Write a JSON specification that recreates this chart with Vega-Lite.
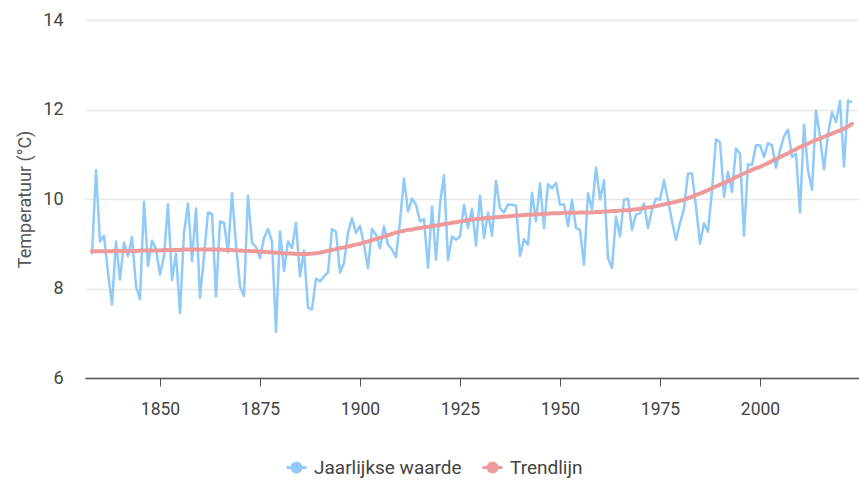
{
  "$schema": "https://vega.github.io/schema/vega-lite/v6.json",
  "width": 774,
  "height": 358,
  "autosize": {"type": "none"},
  "padding": {"left": 85, "top": 20, "right": 0, "bottom": 104},
  "background": "white",
  "config": {
    "font": "Roboto",
    "view": {"stroke": null},
    "axis": {"labelFont": "Roboto", "titleFont": "Roboto"},
    "legend": {"labelFont": "Roboto"}
  },
  "data": {"values": [
    {"year":1833,"jaarlijks":8.76,"trend":8.83},{"year":1834,"jaarlijks":10.64,"trend":8.83},{"year":1835,"jaarlijks":9.05,"trend":8.83},{"year":1836,"jaarlijks":9.18,"trend":8.83},{"year":1837,"jaarlijks":8.35,"trend":8.83},{"year":1838,"jaarlijks":7.64,"trend":8.83},{"year":1839,"jaarlijks":9.05,"trend":8.84},{"year":1840,"jaarlijks":8.2,"trend":8.84},{"year":1841,"jaarlijks":9.03,"trend":8.84},{"year":1842,"jaarlijks":8.72,"trend":8.84},{"year":1843,"jaarlijks":9.15,"trend":8.84},{"year":1844,"jaarlijks":8.05,"trend":8.84},{"year":1845,"jaarlijks":7.76,"trend":8.85},{"year":1846,"jaarlijks":9.94,"trend":8.85},{"year":1847,"jaarlijks":8.51,"trend":8.85},{"year":1848,"jaarlijks":9.07,"trend":8.85},{"year":1849,"jaarlijks":8.88,"trend":8.85},{"year":1850,"jaarlijks":8.31,"trend":8.85},
    {"year":1851,"jaarlijks":8.72,"trend":8.86},{"year":1852,"jaarlijks":9.88,"trend":8.86},{"year":1853,"jaarlijks":8.19,"trend":8.86},{"year":1854,"jaarlijks":8.78,"trend":8.86},{"year":1855,"jaarlijks":7.45,"trend":8.86},{"year":1856,"jaarlijks":9.24,"trend":8.87},{"year":1857,"jaarlijks":9.9,"trend":8.87},{"year":1858,"jaarlijks":8.61,"trend":8.87},{"year":1859,"jaarlijks":9.79,"trend":8.87},{"year":1860,"jaarlijks":7.79,"trend":8.87},{"year":1861,"jaarlijks":8.72,"trend":8.87},{"year":1862,"jaarlijks":9.7,"trend":8.87},{"year":1863,"jaarlijks":9.67,"trend":8.87},{"year":1864,"jaarlijks":7.82,"trend":8.87},{"year":1865,"jaarlijks":9.5,"trend":8.87},{"year":1866,"jaarlijks":9.47,"trend":8.86},{"year":1867,"jaarlijks":8.81,"trend":8.86},{"year":1868,"jaarlijks":10.13,"trend":8.86},{"year":1869,"jaarlijks":8.98,"trend":8.85},{"year":1870,"jaarlijks":8.05,"trend":8.85},
    {"year":1871,"jaarlijks":7.83,"trend":8.84},{"year":1872,"jaarlijks":10.07,"trend":8.84},{"year":1873,"jaarlijks":9.02,"trend":8.83},{"year":1874,"jaarlijks":8.93,"trend":8.83},{"year":1875,"jaarlijks":8.68,"trend":8.82},{"year":1876,"jaarlijks":9.13,"trend":8.82},{"year":1877,"jaarlijks":9.33,"trend":8.81},{"year":1878,"jaarlijks":9.05,"trend":8.81},{"year":1879,"jaarlijks":7.03,"trend":8.8},{"year":1880,"jaarlijks":9.28,"trend":8.8},{"year":1881,"jaarlijks":8.39,"trend":8.79},{"year":1882,"jaarlijks":9.05,"trend":8.78},{"year":1883,"jaarlijks":8.9,"trend":8.78},{"year":1884,"jaarlijks":9.47,"trend":8.77},{"year":1885,"jaarlijks":8.27,"trend":8.77},{"year":1886,"jaarlijks":8.85,"trend":8.77},{"year":1887,"jaarlijks":7.57,"trend":8.77},{"year":1888,"jaarlijks":7.53,"trend":8.78},{"year":1889,"jaarlijks":8.22,"trend":8.79},{"year":1890,"jaarlijks":8.16,"trend":8.8},
    {"year":1891,"jaarlijks":8.27,"trend":8.82},{"year":1892,"jaarlijks":8.36,"trend":8.84},{"year":1893,"jaarlijks":9.33,"trend":8.86},{"year":1894,"jaarlijks":9.27,"trend":8.88},{"year":1895,"jaarlijks":8.35,"trend":8.9},{"year":1896,"jaarlijks":8.57,"trend":8.92},{"year":1897,"jaarlijks":9.24,"trend":8.94},{"year":1898,"jaarlijks":9.57,"trend":8.96},{"year":1899,"jaarlijks":9.24,"trend":8.98},{"year":1900,"jaarlijks":9.4,"trend":9.0},{"year":1901,"jaarlijks":8.98,"trend":9.03},{"year":1902,"jaarlijks":8.46,"trend":9.05},{"year":1903,"jaarlijks":9.33,"trend":9.08},{"year":1904,"jaarlijks":9.2,"trend":9.11},{"year":1905,"jaarlijks":8.9,"trend":9.13},{"year":1906,"jaarlijks":9.39,"trend":9.16},{"year":1907,"jaarlijks":8.98,"trend":9.19},{"year":1908,"jaarlijks":8.87,"trend":9.22},{"year":1909,"jaarlijks":8.7,"trend":9.25},{"year":1910,"jaarlijks":9.5,"trend":9.27},
    {"year":1911,"jaarlijks":10.46,"trend":9.29},{"year":1912,"jaarlijks":9.72,"trend":9.31},{"year":1913,"jaarlijks":10.01,"trend":9.32},{"year":1914,"jaarlijks":9.87,"trend":9.34},{"year":1915,"jaarlijks":9.5,"trend":9.35},{"year":1916,"jaarlijks":9.55,"trend":9.37},{"year":1917,"jaarlijks":8.46,"trend":9.38},{"year":1918,"jaarlijks":9.83,"trend":9.39},{"year":1919,"jaarlijks":8.64,"trend":9.41},{"year":1920,"jaarlijks":9.9,"trend":9.42},{"year":1921,"jaarlijks":10.53,"trend":9.44},{"year":1922,"jaarlijks":8.63,"trend":9.45},{"year":1923,"jaarlijks":9.16,"trend":9.47},{"year":1924,"jaarlijks":9.09,"trend":9.48},{"year":1925,"jaarlijks":9.16,"trend":9.5},{"year":1926,"jaarlijks":9.87,"trend":9.51},{"year":1927,"jaarlijks":9.35,"trend":9.53},{"year":1928,"jaarlijks":9.78,"trend":9.54},{"year":1929,"jaarlijks":8.96,"trend":9.55},{"year":1930,"jaarlijks":10.07,"trend":9.56},
    {"year":1931,"jaarlijks":9.13,"trend":9.57},{"year":1932,"jaarlijks":9.7,"trend":9.58},{"year":1933,"jaarlijks":9.18,"trend":9.58},{"year":1934,"jaarlijks":10.4,"trend":9.59},{"year":1935,"jaarlijks":9.79,"trend":9.6},{"year":1936,"jaarlijks":9.7,"trend":9.61},{"year":1937,"jaarlijks":9.88,"trend":9.61},{"year":1938,"jaarlijks":9.87,"trend":9.62},{"year":1939,"jaarlijks":9.85,"trend":9.63},{"year":1940,"jaarlijks":8.73,"trend":9.63},{"year":1941,"jaarlijks":9.1,"trend":9.64},{"year":1942,"jaarlijks":8.98,"trend":9.65},{"year":1943,"jaarlijks":10.14,"trend":9.65},{"year":1944,"jaarlijks":9.5,"trend":9.66},{"year":1945,"jaarlijks":10.35,"trend":9.66},{"year":1946,"jaarlijks":9.35,"trend":9.67},{"year":1947,"jaarlijks":10.33,"trend":9.67},{"year":1948,"jaarlijks":10.24,"trend":9.68},{"year":1949,"jaarlijks":10.36,"trend":9.68},{"year":1950,"jaarlijks":9.87,"trend":9.68},
    {"year":1951,"jaarlijks":9.88,"trend":9.69},{"year":1952,"jaarlijks":9.39,"trend":9.69},{"year":1953,"jaarlijks":9.98,"trend":9.69},{"year":1954,"jaarlijks":9.35,"trend":9.69},{"year":1955,"jaarlijks":9.31,"trend":9.7},{"year":1956,"jaarlijks":8.53,"trend":9.7},{"year":1957,"jaarlijks":10.13,"trend":9.7},{"year":1958,"jaarlijks":9.77,"trend":9.7},{"year":1959,"jaarlijks":10.7,"trend":9.71},{"year":1960,"jaarlijks":9.99,"trend":9.71},{"year":1961,"jaarlijks":10.42,"trend":9.72},{"year":1962,"jaarlijks":8.68,"trend":9.72},{"year":1963,"jaarlijks":8.46,"trend":9.73},{"year":1964,"jaarlijks":9.61,"trend":9.73},{"year":1965,"jaarlijks":9.16,"trend":9.74},{"year":1966,"jaarlijks":9.98,"trend":9.75},{"year":1967,"jaarlijks":10.01,"trend":9.75},{"year":1968,"jaarlijks":9.31,"trend":9.76},{"year":1969,"jaarlijks":9.65,"trend":9.77},{"year":1970,"jaarlijks":9.68,"trend":9.78},
    {"year":1971,"jaarlijks":9.9,"trend":9.8},{"year":1972,"jaarlijks":9.35,"trend":9.81},{"year":1973,"jaarlijks":9.76,"trend":9.82},{"year":1974,"jaarlijks":10.01,"trend":9.84},{"year":1975,"jaarlijks":9.98,"trend":9.86},{"year":1976,"jaarlijks":10.42,"trend":9.88},{"year":1977,"jaarlijks":9.98,"trend":9.9},{"year":1978,"jaarlijks":9.5,"trend":9.92},{"year":1979,"jaarlijks":9.09,"trend":9.94},{"year":1980,"jaarlijks":9.46,"trend":9.96},{"year":1981,"jaarlijks":9.79,"trend":9.98},{"year":1982,"jaarlijks":10.57,"trend":10.02},{"year":1983,"jaarlijks":10.57,"trend":10.05},{"year":1984,"jaarlijks":9.83,"trend":10.09},{"year":1985,"jaarlijks":9.0,"trend":10.12},{"year":1986,"jaarlijks":9.46,"trend":10.16},{"year":1987,"jaarlijks":9.27,"trend":10.2},{"year":1988,"jaarlijks":10.2,"trend":10.24},{"year":1989,"jaarlijks":11.33,"trend":10.28},{"year":1990,"jaarlijks":11.27,"trend":10.32},
    {"year":1991,"jaarlijks":10.05,"trend":10.36},{"year":1992,"jaarlijks":10.61,"trend":10.4},{"year":1993,"jaarlijks":10.16,"trend":10.44},{"year":1994,"jaarlijks":11.13,"trend":10.49},{"year":1995,"jaarlijks":11.01,"trend":10.53},{"year":1996,"jaarlijks":9.18,"trend":10.57},{"year":1997,"jaarlijks":10.78,"trend":10.61},{"year":1998,"jaarlijks":10.76,"trend":10.65},{"year":1999,"jaarlijks":11.2,"trend":10.69},{"year":2000,"jaarlijks":11.2,"trend":10.72},{"year":2001,"jaarlijks":10.94,"trend":10.76},{"year":2002,"jaarlijks":11.25,"trend":10.8},{"year":2003,"jaarlijks":11.2,"trend":10.85},{"year":2004,"jaarlijks":10.7,"trend":10.89},{"year":2005,"jaarlijks":11.09,"trend":10.94},{"year":2006,"jaarlijks":11.4,"trend":10.98},{"year":2007,"jaarlijks":11.55,"trend":11.02},{"year":2008,"jaarlijks":10.94,"trend":11.07},{"year":2009,"jaarlijks":11.01,"trend":11.11},{"year":2010,"jaarlijks":9.7,"trend":11.16},
    {"year":2011,"jaarlijks":11.66,"trend":11.2},{"year":2012,"jaarlijks":10.64,"trend":11.24},{"year":2013,"jaarlijks":10.2,"trend":11.28},{"year":2014,"jaarlijks":11.98,"trend":11.32},{"year":2015,"jaarlijks":11.39,"trend":11.35},{"year":2016,"jaarlijks":10.66,"trend":11.39},{"year":2017,"jaarlijks":11.46,"trend":11.43},{"year":2018,"jaarlijks":11.94,"trend":11.46},{"year":2019,"jaarlijks":11.72,"trend":11.5},{"year":2020,"jaarlijks":12.19,"trend":11.53},{"year":2021,"jaarlijks":10.73,"trend":11.57},{"year":2022,"jaarlijks":12.2,"trend":11.62},{"year":2023,"jaarlijks":12.16,"trend":11.68}
  ]},
  "encoding": {
    "x": {
      "field": "year", "type": "quantitative",
      "scale": {"domain": [1831.25, 2024.75], "nice": false, "zero": false},
      "axis": {
        "title": null, "values": [1850, 1875, 1900, 1925, 1950, 1975, 2000],
        "format": "d", "grid": false, "domainColor": "#555555", "domainWidth": 1.5,
        "tickColor": "#555555", "tickSize": 8, "tickWidth": 1,
        "labelFontSize": 17.5, "labelColor": "#444444", "labelPadding": 14
      }
    }
  },
  "layer": [
    {
      "mark": {"type": "line", "strokeWidth": 2.5, "strokeJoin": "round"},
      "encoding": {
        "y": {
          "field": "jaarlijks", "type": "quantitative",
          "scale": {"domain": [6, 14], "nice": false, "zero": false},
          "axis": {
            "title": "Temperatuur (°C)", "values": [6, 8, 10, 12, 14],
            "domain": false, "ticks": false, "gridColor": "#e8e8e8", "gridWidth": 1.5,
            "labelFontSize": 18, "labelColor": "#444444", "labelPadding": 22,
            "titleFontSize": 18, "titleFontWeight": "normal", "titleColor": "#555555", "titlePadding": 8
          }
        },
        "color": {
          "datum": "Jaarlijkse waarde",
          "scale": {"domain": ["Jaarlijkse waarde", "Trendlijn"], "range": ["#90CAF9", "#EF9A9A"]},
          "legend": {
            "title": null, "orient": "none", "direction": "horizontal",
            "legendX": 200, "legendY": 436,
            "symbolType": "M-1,0L1,0M0.45,0A0.45,0.45,0,1,1,-0.45,0A0.45,0.45,0,1,1,0.45,0Z",
            "symbolSize": 400, "symbolStrokeWidth": 3,
            "labelFontSize": 19, "labelColor": "#444444", "labelOffset": 6, "columnPadding": 14,
            "encode": {"symbols": {"update": {"fill": {"field": "value", "scale": "color"}}}}
          }
        }
      }
    },
    {
      "mark": {"type": "line", "strokeWidth": 4, "strokeCap": "round"},
      "encoding": {
        "y": {"field": "trend", "type": "quantitative"},
        "color": {"datum": "Trendlijn"}
      }
    }
  ]
}
